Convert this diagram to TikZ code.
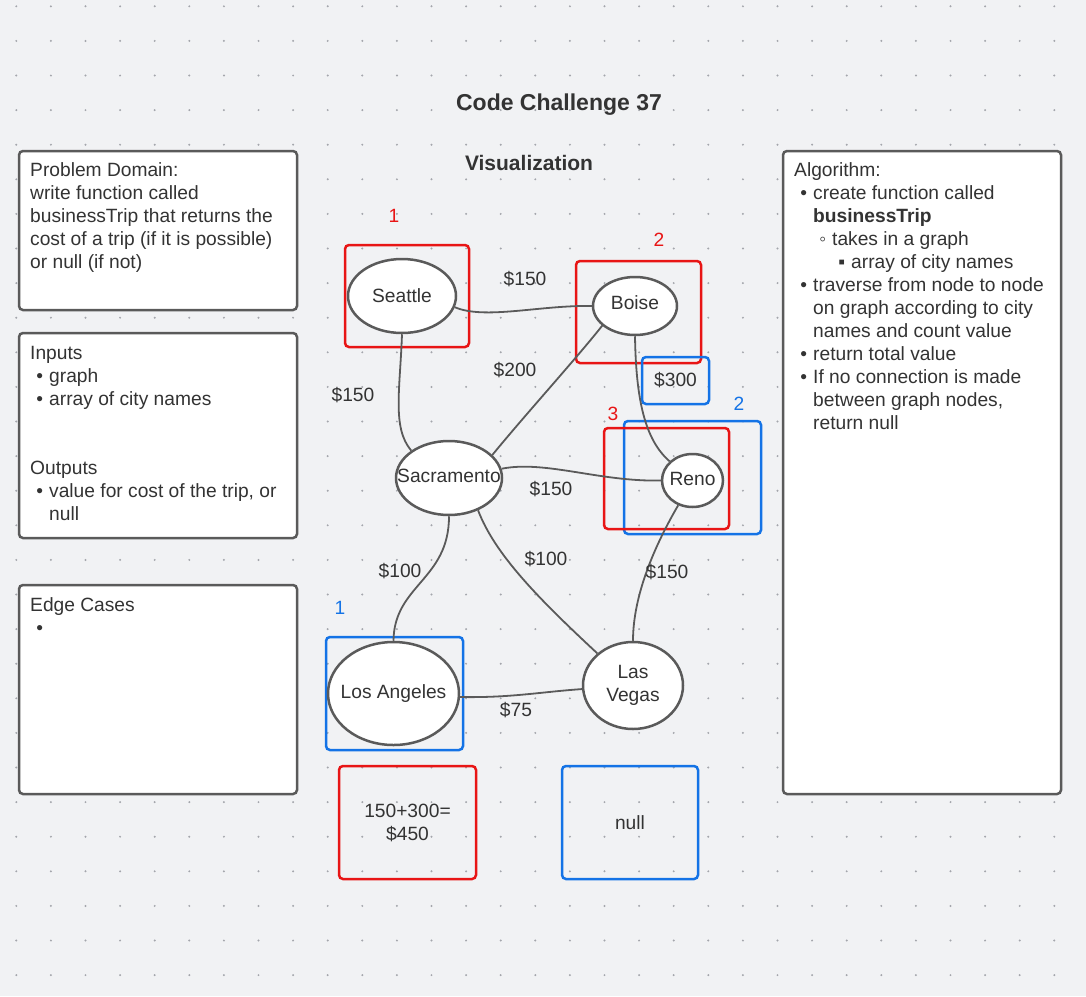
\documentclass[tikz,border=0pt]{standalone}
\usepackage{fontspec}
\setmainfont{Liberation Sans}
\usetikzlibrary{shapes.geometric}
\definecolor{bg}{HTML}{F1F2F4}
\definecolor{dotc}{HTML}{A4A6AC}
\definecolor{txt}{HTML}{333333}
\definecolor{bord}{HTML}{5A5A5A}
\definecolor{redc}{HTML}{E81515}
\definecolor{bluec}{HTML}{1473E6}
\newcommand\li[2]{\hspace*{#1}\llap{#2\hspace{6pt}}}
\begin{document}
\begin{tikzpicture}[x=1pt,y=-1pt, font=\fontsize{19.2}{23}\selectfont, text=txt,
  panel/.style={draw=bord, line width=2.5pt, fill=white, rounded corners=4pt, inner sep=0pt, outer sep=0pt, anchor=north west},
  paneltext/.style={anchor=base west, inner sep=0pt, font=\fontsize{19.2}{23}\selectfont},
  city/.style={ellipse, draw=bord, line width=2.5pt, fill=white, inner sep=0pt},
  hlred/.style={draw=redc, line width=2.5pt, rounded corners=4pt, inner sep=0pt},
  hlblue/.style={draw=bluec, line width=2.5pt, rounded corners=4pt, inner sep=0pt},
  link/.style={draw=bord, line width=1.8pt},
  numred/.style={text=redc},
  numblue/.style={text=bluec}]
\useasboundingbox (0,0) rectangle (1086,996);
\fill[bg] (0,0) rectangle (1086,996);
\foreach \i in {0,...,30} \foreach \j in {0,...,28}
  \fill[dotc] ({16.3+34.6*\i},{6.3+34.6*\j}) circle (1.1pt);

% titles
\node[font=\fontsize{23}{27}\selectfont\bfseries] (title) at (559,104.5) {Code Challenge 37};
\node[font=\fontsize{21}{25}\selectfont\bfseries] (vis) at (529,163) {Visualization};

% panels
\node[panel, minimum width=278pt, minimum height=159pt] (pd) at (19,151) {};
\node[paneltext] (pdt) at (30,176.5) {\begin{minipage}[t]{300pt}Problem Domain:\\write function called\\businessTrip that returns the\\cost of a trip (if it is possible)\\or null (if not)\end{minipage}};

\node[panel, minimum width=278pt, minimum height=205pt] (io) at (19,333) {};
\node[paneltext] (iot) at (30,359) {\begin{minipage}[t]{300pt}Inputs\\\li{19pt}{•}graph\\\li{19pt}{•}array of city names\\[46pt]Outputs\\\li{19pt}{•}value for cost of the trip, or\\\hspace*{19pt}null\end{minipage}};

\node[panel, minimum width=278pt, minimum height=209pt] (ec) at (19,585) {};
\node[paneltext] (ect) at (30,611) {\begin{minipage}[t]{300pt}Edge Cases\\\li{19pt}{•}\mbox{}\end{minipage}};

\node[panel, minimum width=278pt, minimum height=643pt] (al) at (783,151) {};
\node[paneltext] (alt) at (794,176.5) {\begin{minipage}[t]{300pt}Algorithm:\\
\li{19pt}{•}create function called\\
\hspace*{19pt}\textbf{businessTrip}\\
\li{38pt}{◦}takes in a graph\\
\li{57pt}{▪}array of city names\\
\li{19pt}{•}traverse from node to node\\
\hspace*{19pt}on graph according to city\\
\hspace*{19pt}names and count value\\
\li{19pt}{•}return total value\\
\li{19pt}{•}If no connection is made\\
\hspace*{19pt}between graph nodes,\\
\hspace*{19pt}return null\end{minipage}};

% highlight boxes
\node[hlred, minimum width=124pt, minimum height=102pt] (bxsea) at (407,296) {};
\node[hlred, minimum width=125pt, minimum height=102pt] (bxboi) at (638.5,312) {};
\node[hlblue, minimum width=67pt, minimum height=47pt] (bx300) at (675.5,380.5) {\$300};
\node[hlblue, minimum width=137pt, minimum height=113pt] (bxrenob) at (692.5,477.5) {};
\node[hlred, minimum width=125pt, minimum height=101pt] (bxrenor) at (666.5,478.5) {};
\node[hlblue, minimum width=137pt, minimum height=113pt] (bxla) at (394.5,693.5) {};
\node[hlred, minimum width=137pt, minimum height=113pt, align=center] (bxsum) at (407.5,822.5) {150+300=\\\$450};
\node[hlblue, minimum width=136pt, minimum height=113pt] (bxnull) at (630,822.5) {null};

% numbers
\node[numred] (n1r) at (394,215.5) {1};
\node[numred] (n2r) at (659,239.5) {2};
\node[numred] (n3r) at (613,413.5) {3};
\node[numblue] (n2b) at (739,403.5) {2};
\node[numblue] (n1b) at (340,607.5) {1};

% cities
\node[city, minimum width=108pt, minimum height=74pt, label={center:Seattle}] (sea) at (402,296) {};
\node[city, minimum width=84pt, minimum height=58pt, label={[yshift=3pt]center:Boise}] (boi) at (635,306) {};
\node[city, minimum width=106pt, minimum height=74pt, label={[yshift=2pt]center:Sacramento}] (sac) at (449,478) {};
\node[city, minimum width=61pt, minimum height=53pt, label={[yshift=2pt]center:Reno}] (reno) at (692.5,480.5) {};
\node[city, minimum width=131pt, minimum height=103pt, label={center:Los Angeles}] (la) at (393.5,693.5) {};
\node[city, minimum width=100pt, minimum height=87pt, label={[align=center]center:Las\\Vegas}] (lv) at (633,685.5) {};

% edges
\draw[link] (sea.-12) .. controls (485,320) and (540,305) .. (boi.west);
\draw[link] (sea.south) .. controls (400,390) and (392,428) .. (sac.144);
\draw[link] (boi.211) .. controls (575,360) and (525,415) .. (sac.28);
\draw[link] (boi.south) .. controls (636,400) and (645,440) .. (reno.140);
\draw[link] (sac.10) .. controls (545,460) and (600,482) .. (reno.west);
\draw[link] (sac.south) .. controls (449,580) and (394,585) .. (la.north);
\draw[link] (sac.-48) .. controls (495,555) and (540,600) .. (lv.138);
\draw[link] (reno.-120) .. controls (655,545) and (633,595) .. (lv.north);
\draw[link] (la.-3) .. controls (510,698) and (540,692) .. (lv.184);

% edge labels
\node (e1) at (525,279) {\$150};
\node (e2) at (515,370) {\$200};
\node (e3) at (353,395) {\$150};
\node (e4) at (551,489) {\$150};
\node (e5) at (400,571) {\$100};
\node (e6) at (546,559) {\$100};
\node (e7) at (667,572) {\$150};
\node (e8) at (516,710) {\$75};
\end{tikzpicture}
\end{document}
